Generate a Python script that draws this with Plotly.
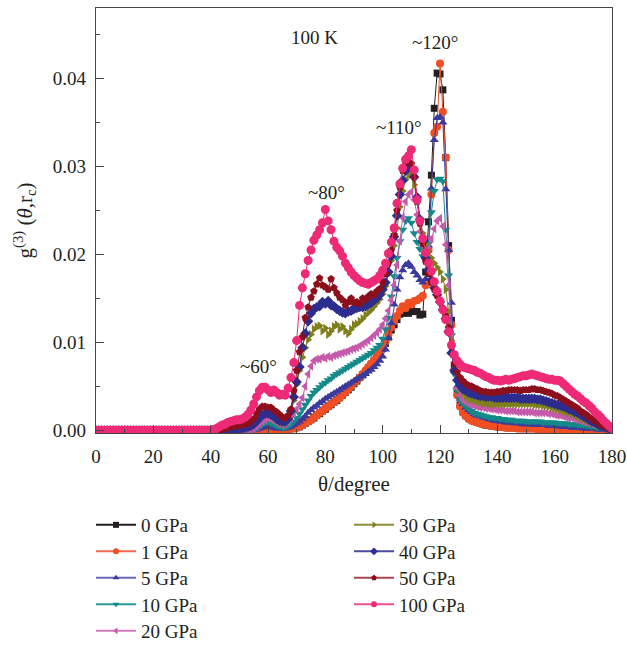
import plotly.graph_objects as go

theta = list(range(0, 181))

g_0GPa = [
    0, 0, 0, 0, 0, 0, 0, 0, 0, 0,
    0, 0, 0, 0, 0, 0, 0, 0, 0, 0,
    0, 0, 0, 0, 0, 0, 0, 0, 0, 0,
    0, 0, 0, 0, 0, 0, 0, 0, 0, 0,
    0, 0, 0, 0, 0, 0, 0, 0, 0, 0,
    0, 0, 0, 0, 0, 0, 0, 0, 0, 0,
    0, 0, 0, 0, 0, 0.0001, 0.0001, 0.0001, 0.0002, 0.0002,
    0.0003, 0.0004, 0.0006, 0.0008, 0.001, 0.0012, 0.0014, 0.0017, 0.0019, 0.0022,
    0.0024, 0.0027, 0.0029, 0.0032, 0.0034, 0.0037, 0.004, 0.0043, 0.0046, 0.0049,
    0.0053, 0.0056, 0.006, 0.0063, 0.0067, 0.0071, 0.0075, 0.0079, 0.0084, 0.0088,
    0.0093, 0.0099, 0.0106, 0.0114, 0.012, 0.0126, 0.0132, 0.0133, 0.0134, 0.0133,
    0.0137, 0.0135, 0.0135, 0.0131, 0.0132, 0.018, 0.0237, 0.029, 0.0366, 0.0406,
    0.0405, 0.0387, 0.031, 0.021, 0.0125, 0.0072, 0.0043, 0.0029, 0.0021, 0.0017,
    0.0014, 0.0012, 0.001, 0.0009, 0.0008, 0.0007, 0.0006, 0.0006, 0.0005, 0.0005,
    0.0004, 0.0004, 0.0004, 0.0003, 0.0003, 0.0003, 0.0003, 0.0003, 0.0002, 0.0002,
    0.0002, 0.0002, 0.0002, 0.0002, 0.0002, 0.0002, 0.0001, 0.0001, 0.0001, 0.0001,
    0.0001, 0.0001, 0.0001, 0.0001, 0.0001, 0.0001, 0.0001, 0.0001, 0.0001, 0.0001,
    0.0001, 0.0001, 0.0001, 0.0001, 0.0001, 0, 0, 0, 0, 0,
    0,
]

g_1GPa = [
    0, 0, 0, 0, 0, 0, 0, 0, 0, 0,
    0, 0, 0, 0, 0, 0, 0, 0, 0, 0,
    0, 0, 0, 0, 0, 0, 0, 0, 0, 0,
    0, 0, 0, 0, 0, 0, 0, 0, 0, 0,
    0, 0, 0, 0, 0, 0, 0, 0, 0, 0,
    0, 0, 0, 0, 0, 0, 0, 0, 0, 0,
    0, 0, 0, 0, 0, 0.0001, 0.0001, 0.0001, 0.0002, 0.0002,
    0.0003, 0.0004, 0.0006, 0.0008, 0.001, 0.0012, 0.0015, 0.0017, 0.002, 0.0022,
    0.0025, 0.0027, 0.003, 0.0032, 0.0035, 0.0037, 0.004, 0.0043, 0.0047, 0.005,
    0.0054, 0.0057, 0.006, 0.0064, 0.0068, 0.0072, 0.0076, 0.008, 0.0085, 0.009,
    0.0095, 0.0101, 0.0109, 0.0117, 0.0124, 0.013, 0.0136, 0.0141, 0.0139, 0.0145,
    0.0143, 0.0147, 0.0148, 0.015, 0.0153, 0.0165, 0.0205, 0.0268, 0.0338, 0.0345,
    0.0417, 0.0362, 0.031, 0.0205, 0.012, 0.0068, 0.004, 0.0027, 0.002, 0.0016,
    0.0013, 0.0011, 0.001, 0.0009, 0.0008, 0.0007, 0.0006, 0.0006, 0.0005, 0.0005,
    0.0004, 0.0004, 0.0004, 0.0003, 0.0003, 0.0003, 0.0003, 0.0002, 0.0002, 0.0002,
    0.0002, 0.0002, 0.0002, 0.0002, 0.0001, 0.0001, 0.0001, 0.0001, 0.0001, 0.0001,
    0.0001, 0.0001, 0.0001, 0.0001, 0.0001, 0, 0, 0, 0, 0,
    0, 0, 0, 0, 0, 0, 0, 0, 0, 0,
    0,
]

g_5GPa = [
    0, 0, 0, 0, 0, 0, 0, 0, 0, 0,
    0, 0, 0, 0, 0, 0, 0, 0, 0, 0,
    0, 0, 0, 0, 0, 0, 0, 0, 0, 0,
    0, 0, 0, 0, 0, 0, 0, 0, 0, 0,
    0, 0, 0, 0, 0, 0, 0, 0, 0, 0,
    0, 0, 0, 0, 0, 0, 0.0001, 0.0002, 0.0003, 0.0004,
    0.0004, 0.0004, 0.0003, 0.0002, 0.0002, 0.0002, 0.0002, 0.0003, 0.0004, 0.0006,
    0.0008, 0.001, 0.0013, 0.0016, 0.002, 0.0023, 0.0026, 0.0028, 0.0031, 0.0033,
    0.0036, 0.0038, 0.004, 0.0042, 0.0044, 0.0046, 0.0048, 0.005, 0.0052, 0.0054,
    0.0056, 0.0058, 0.006, 0.0062, 0.0064, 0.0067, 0.0069, 0.0072, 0.0075, 0.0079,
    0.0084, 0.0092, 0.0105, 0.0122, 0.0143, 0.016, 0.0174, 0.0182, 0.0188, 0.019,
    0.0186, 0.018, 0.0176, 0.0171, 0.0168, 0.0172, 0.021, 0.0275, 0.033, 0.0355,
    0.0356, 0.035, 0.0274, 0.0205, 0.0145, 0.0085, 0.005, 0.0036, 0.003, 0.0026,
    0.0023, 0.0021, 0.0019, 0.0017, 0.0016, 0.0015, 0.0014, 0.0013, 0.0012, 0.0011,
    0.0011, 0.001, 0.001, 0.0009, 0.0009, 0.0009, 0.0008, 0.0008, 0.0008, 0.0007,
    0.0007, 0.0007, 0.0007, 0.0006, 0.0006, 0.0006, 0.0006, 0.0006, 0.0005, 0.0005,
    0.0005, 0.0005, 0.0004, 0.0004, 0.0004, 0.0004, 0.0003, 0.0003, 0.0003, 0.0003,
    0.0002, 0.0002, 0.0002, 0.0002, 0.0002, 0.0001, 0.0001, 0.0001, 0.0001, 0.0001,
    0,
]

g_10GPa = [
    0, 0, 0, 0, 0, 0, 0, 0, 0, 0,
    0, 0, 0, 0, 0, 0, 0, 0, 0, 0,
    0, 0, 0, 0, 0, 0, 0, 0, 0, 0,
    0, 0, 0, 0, 0, 0, 0, 0, 0, 0,
    0, 0, 0, 0, 0, 0, 0, 0, 0, 0,
    0, 0, 0, 0, 0.0001, 0.0002, 0.0003, 0.0005, 0.0007, 0.0009,
    0.0009, 0.0008, 0.0007, 0.0005, 0.0004, 0.0003, 0.0003, 0.0005, 0.0007, 0.001,
    0.0014, 0.0019, 0.0024, 0.0029, 0.0034, 0.0039, 0.0043, 0.0046, 0.0049, 0.0052,
    0.0054, 0.0057, 0.0059, 0.0062, 0.0064, 0.0066, 0.0068, 0.007, 0.0072, 0.0074,
    0.0076, 0.0078, 0.008, 0.0082, 0.0084, 0.0086, 0.0088, 0.0091, 0.0094, 0.0097,
    0.0104, 0.0115, 0.0128, 0.0152, 0.0175, 0.0196, 0.0215, 0.0228, 0.0238, 0.0241,
    0.0236, 0.0224, 0.0214, 0.0206, 0.0198, 0.0198, 0.0212, 0.0248, 0.0272, 0.0285,
    0.0286, 0.0283, 0.0228, 0.0176, 0.0108, 0.0064, 0.0045, 0.0036, 0.0031, 0.0027,
    0.0024, 0.0022, 0.002, 0.0019, 0.0018, 0.0017, 0.0016, 0.0015, 0.0015, 0.0014,
    0.0014, 0.0013, 0.0013, 0.0012, 0.0012, 0.0012, 0.0011, 0.0011, 0.0011, 0.0011,
    0.001, 0.001, 0.001, 0.001, 0.001, 0.001, 0.0009, 0.0009, 0.0009, 0.0009,
    0.0009, 0.0008, 0.0008, 0.0008, 0.0008, 0.0007, 0.0007, 0.0007, 0.0006, 0.0006,
    0.0006, 0.0005, 0.0005, 0.0004, 0.0004, 0.0003, 0.0003, 0.0002, 0.0002, 0.0001,
    0.0001,
]

g_20GPa = [
    0, 0, 0, 0, 0, 0, 0, 0, 0, 0,
    0, 0, 0, 0, 0, 0, 0, 0, 0, 0,
    0, 0, 0, 0, 0, 0, 0, 0, 0, 0,
    0, 0, 0, 0, 0, 0, 0, 0, 0, 0,
    0, 0, 0, 0, 0, 0, 0, 0, 0, 0,
    0, 0, 0, 0.0001, 0.0001, 0.0002, 0.0004, 0.0007, 0.001, 0.0012,
    0.0014, 0.0013, 0.0011, 0.0009, 0.0007, 0.0006, 0.0007, 0.001, 0.0014, 0.0019,
    0.0024, 0.003, 0.0037, 0.005, 0.0064, 0.0073, 0.0079, 0.0081, 0.0081, 0.0083,
    0.0082, 0.0084, 0.0083, 0.0085, 0.0086, 0.0087, 0.0088, 0.0089, 0.009, 0.0092,
    0.0093, 0.0094, 0.0096, 0.0098, 0.01, 0.0102, 0.0105, 0.0108, 0.0111, 0.0115,
    0.012, 0.0127, 0.0136, 0.0148, 0.0165, 0.0188, 0.0215, 0.0242, 0.026, 0.0268,
    0.0271, 0.0262, 0.0245, 0.0226, 0.021, 0.0203, 0.0206, 0.0218, 0.0229, 0.0238,
    0.0241, 0.0232, 0.0211, 0.0165, 0.0108, 0.0068, 0.0048, 0.004, 0.0035, 0.0032,
    0.003, 0.0029, 0.0028, 0.0027, 0.0026, 0.0026, 0.0025, 0.0025, 0.0024, 0.0024,
    0.0023, 0.0023, 0.0023, 0.0022, 0.0022, 0.0022, 0.0022, 0.0021, 0.0021, 0.0021,
    0.0021, 0.0021, 0.0021, 0.002, 0.002, 0.002, 0.002, 0.002, 0.0019, 0.0019,
    0.0018, 0.0017, 0.0017, 0.0016, 0.0015, 0.0014, 0.0014, 0.0013, 0.0012, 0.0011,
    0.001, 0.0009, 0.0008, 0.0007, 0.0006, 0.0005, 0.0004, 0.0003, 0.0002, 0.0001,
    0.0001,
]

g_30GPa = [
    0, 0, 0, 0, 0, 0, 0, 0, 0, 0,
    0, 0, 0, 0, 0, 0, 0, 0, 0, 0,
    0, 0, 0, 0, 0, 0, 0, 0, 0, 0,
    0, 0, 0, 0, 0, 0, 0, 0, 0, 0,
    0, 0, 0, 0, 0, 0, 0, 0, 0, 0,
    0.0001, 0.0001, 0.0002, 0.0003, 0.0004, 0.0006, 0.0009, 0.0012, 0.0016, 0.0019,
    0.002, 0.0018, 0.0015, 0.0012, 0.001, 0.0008, 0.0009, 0.0013, 0.002, 0.0034,
    0.0052, 0.0068, 0.0083, 0.0094, 0.0103, 0.0109, 0.0115, 0.0118, 0.0119, 0.0113,
    0.0116, 0.0109, 0.0113, 0.0118, 0.012, 0.0115, 0.0118, 0.0113, 0.011, 0.0115,
    0.012, 0.0121, 0.0124, 0.0127, 0.0131, 0.0134, 0.0137, 0.0141, 0.0145, 0.0149,
    0.0155, 0.0164, 0.0178, 0.0193, 0.021, 0.023, 0.0254, 0.0272, 0.0285, 0.029,
    0.0291, 0.0279, 0.026, 0.0241, 0.0224, 0.0212, 0.0203, 0.0196, 0.019, 0.0185,
    0.018, 0.0172, 0.016, 0.0135, 0.0102, 0.0073, 0.0055, 0.0047, 0.0042, 0.0038,
    0.0036, 0.0035, 0.0034, 0.0033, 0.0032, 0.0031, 0.0031, 0.003, 0.003, 0.003,
    0.003, 0.003, 0.003, 0.003, 0.003, 0.003, 0.003, 0.003, 0.003, 0.003,
    0.003, 0.003, 0.003, 0.0029, 0.0029, 0.0029, 0.0028, 0.0028, 0.0027, 0.0026,
    0.0025, 0.0024, 0.0023, 0.0022, 0.0021, 0.002, 0.0019, 0.0017, 0.0016, 0.0014,
    0.0013, 0.0011, 0.001, 0.0009, 0.0007, 0.0006, 0.0005, 0.0004, 0.0003, 0.0002,
    0.0001,
]

g_40GPa = [
    0, 0, 0, 0, 0, 0, 0, 0, 0, 0,
    0, 0, 0, 0, 0, 0, 0, 0, 0, 0,
    0, 0, 0, 0, 0, 0, 0, 0, 0, 0,
    0, 0, 0, 0, 0, 0, 0, 0, 0, 0,
    0, 0, 0, 0, 0, 0, 0, 0, 0.0001, 0.0001,
    0.0002, 0.0002, 0.0003, 0.0004, 0.0005, 0.0007, 0.001, 0.0014, 0.0017, 0.0019,
    0.0019, 0.0018, 0.0016, 0.0013, 0.0011, 0.001, 0.001, 0.0013, 0.0022, 0.0038,
    0.0055, 0.0072, 0.0094, 0.011, 0.0124, 0.0133, 0.0138, 0.014, 0.0141, 0.0146,
    0.0144, 0.0147, 0.0142, 0.0141, 0.0138, 0.0136, 0.0134, 0.0133, 0.0135, 0.0136,
    0.0138, 0.0139, 0.014, 0.014, 0.0141, 0.0143, 0.0145, 0.0148, 0.015, 0.0154,
    0.016, 0.0168, 0.018, 0.0198, 0.022, 0.0244, 0.0268, 0.0284, 0.0295, 0.03,
    0.0298, 0.0288, 0.0265, 0.024, 0.0215, 0.0196, 0.0182, 0.0171, 0.0162, 0.0154,
    0.0146, 0.0137, 0.0127, 0.0112, 0.0088, 0.0068, 0.0057, 0.0051, 0.0047, 0.0045,
    0.0043, 0.0042, 0.0041, 0.004, 0.0039, 0.0039, 0.0038, 0.0038, 0.0038, 0.0037,
    0.0037, 0.0037, 0.0037, 0.0037, 0.0037, 0.0037, 0.0037, 0.0037, 0.0036, 0.0036,
    0.0036, 0.0036, 0.0036, 0.0036, 0.0035, 0.0035, 0.0034, 0.0033, 0.0032, 0.0031,
    0.003, 0.0029, 0.0028, 0.0027, 0.0026, 0.0024, 0.0023, 0.0021, 0.002, 0.0018,
    0.0016, 0.0014, 0.0012, 0.001, 0.0009, 0.0007, 0.0005, 0.0004, 0.0003, 0.0002,
    0.0001,
]

g_50GPa = [
    0, 0, 0, 0, 0, 0, 0, 0, 0, 0,
    0, 0, 0, 0, 0, 0, 0, 0, 0, 0,
    0, 0, 0, 0, 0, 0, 0, 0, 0, 0,
    0, 0, 0, 0, 0, 0, 0, 0, 0, 0,
    0, 0, 0, 0, 0.0001, 0.0002, 0.0003, 0.0004, 0.0005, 0.0005,
    0.0006, 0.0006, 0.0007, 0.0008, 0.001, 0.0013, 0.0019, 0.0024, 0.0027, 0.0027,
    0.0026, 0.0026, 0.0023, 0.0021, 0.0018, 0.0015, 0.0014, 0.0017, 0.0024, 0.0045,
    0.0068, 0.0089, 0.0106, 0.0128, 0.014, 0.0151, 0.0158, 0.0166, 0.0173, 0.0165,
    0.0163, 0.016, 0.0172, 0.0162, 0.0156, 0.0151, 0.0148, 0.0142, 0.0146, 0.015,
    0.0145, 0.0146, 0.0144, 0.015, 0.0148, 0.0152, 0.0155, 0.0154, 0.0158, 0.0161,
    0.0168, 0.0178, 0.019, 0.0205, 0.0222, 0.025, 0.0276, 0.0295, 0.0304, 0.031,
    0.0303, 0.0288, 0.026, 0.0235, 0.0212, 0.0192, 0.0178, 0.0168, 0.016, 0.0153,
    0.0146, 0.0139, 0.013, 0.0117, 0.0095, 0.0076, 0.0066, 0.006, 0.0056, 0.0053,
    0.0051, 0.005, 0.0048, 0.0047, 0.0045, 0.0044, 0.0044, 0.0043, 0.0043, 0.0043,
    0.0044, 0.0044, 0.0045, 0.0045, 0.0046, 0.0046, 0.0046, 0.0046, 0.0045, 0.0046,
    0.0046, 0.0046, 0.0047, 0.0047, 0.0046, 0.0046, 0.0045, 0.0044, 0.0043, 0.0042,
    0.004, 0.0039, 0.0037, 0.0035, 0.0033, 0.0031, 0.0029, 0.0027, 0.0025, 0.0022,
    0.002, 0.0018, 0.0015, 0.0013, 0.0011, 0.0009, 0.0007, 0.0005, 0.0004, 0.0002,
    0.0001,
]

g_100GPa = [
    0, 0, 0, 0, 0, 0, 0, 0, 0, 0,
    0, 0, 0, 0, 0, 0, 0, 0, 0, 0,
    0, 0, 0, 0, 0, 0, 0, 0, 0, 0,
    0, 0, 0, 0, 0, 0, 0, 0, 0, 0,
    0, 0.0001, 0.0002, 0.0004, 0.0006, 0.0007, 0.0009, 0.001, 0.0011, 0.0012,
    0.0012, 0.0013, 0.0015, 0.0018, 0.0023, 0.003, 0.0038, 0.0045, 0.0049, 0.0049,
    0.0046, 0.0043, 0.0046, 0.0043, 0.004, 0.0041, 0.004, 0.0048, 0.006, 0.0077,
    0.0102, 0.0142, 0.0162, 0.0178, 0.0193, 0.0205, 0.0216, 0.0222, 0.0228, 0.0236,
    0.0251, 0.0238, 0.0228, 0.0215, 0.0208, 0.0204, 0.0198, 0.019, 0.0185, 0.018,
    0.0176, 0.0173, 0.017, 0.0168, 0.0167, 0.0166, 0.0168, 0.017, 0.0172, 0.0176,
    0.0182, 0.019, 0.0201, 0.0214, 0.023, 0.0258, 0.028, 0.0298, 0.0308, 0.0312,
    0.0319, 0.0296, 0.0262, 0.0238, 0.0218, 0.0202, 0.019, 0.0181, 0.0169, 0.0158,
    0.0147, 0.0137, 0.0126, 0.0112, 0.0097, 0.0086, 0.0079, 0.0075, 0.0072, 0.0071,
    0.007, 0.0069, 0.0068, 0.0066, 0.0065, 0.0063, 0.0061, 0.006, 0.0058, 0.0057,
    0.0057, 0.0056, 0.0057, 0.0058, 0.0057, 0.0058, 0.0059, 0.006, 0.0061, 0.0062,
    0.0062, 0.0063, 0.0064, 0.0063, 0.0062, 0.0061, 0.006, 0.0059, 0.0058, 0.0058,
    0.0057, 0.0057, 0.0056, 0.0053, 0.005, 0.0047, 0.0044, 0.0041, 0.0039, 0.0036,
    0.0033, 0.0031, 0.0028, 0.0025, 0.0021, 0.0018, 0.0015, 0.0011, 0.0008, 0.0005,
    0.0002,
]

series_names = ["0 GPa", "1 GPa", "5 GPa", "10 GPa", "20 GPa",
                "30 GPa", "40 GPa", "50 GPa", "100 GPa"]
series_values = [g_0GPa, g_1GPa, g_5GPa, g_10GPa, g_20GPa,
                 g_30GPa, g_40GPa, g_50GPa, g_100GPa]
colors = ["#231f20", "#f04e23", "#3b3a9c", "#14898a", "#c55aab",
          "#7f7f1c", "#2c2d8e", "#8c0f1c", "#ee2a76"]
legend_line_colors = ["#231f20", "#f36b4e", "#6867b8", "#2a9a9a", "#d07cbd",
                      "#8f8f3a", "#4a4aa0", "#a8464f", "#f0508c"]
symbols = ["square", "circle", "triangle-up", "triangle-down", "triangle-left",
           "triangle-right", "diamond", "pentagon", "circle"]
marker_sizes = [7, 8, 8, 8, 8, 8, 8, 8, 9]

FONT = "Liberation Serif, Times New Roman, serif"
TXT = "#231f20"

W, H = 627, 646
ML, MR, MT, MB = 96, 15, 8, 213
PW, PH = W - ML - MR, H - MT - MB

fig = go.Figure()
for i, (name, vals, col, sym, ms) in enumerate(zip(series_names, series_values, colors, symbols, marker_sizes)):
    fig.add_trace(go.Scatter(
        x=theta, y=vals, name=name, mode="lines+markers",
        line=dict(color=col, width=1),
        marker=dict(symbol=sym, size=ms, color=col),
        showlegend=False,
    ))

# legend-only entries (smaller symbols), one legend box per entry: two columns
legend_layout = {}
row_centers = [525, 551.5, 578, 604.5, 631]
col_starts = [91, 349]
for i, (name, col, lcol, sym) in enumerate(zip(series_names, colors, legend_line_colors, symbols)):
    col_idx = 0 if i < 5 else 1
    row_idx = i if i < 5 else i - 5
    key = "legend" if i == 0 else "legend%d" % (i + 1)
    fig.add_trace(go.Scatter(
        x=[None], y=[None], name=name, mode="lines+markers",
        line=dict(color=lcol, width=2),
        marker=dict(symbol=sym, size=6, color=col),
        showlegend=True, legend=key,
    ))
    legend_layout[key] = dict(
        x=(col_starts[col_idx] - ML) / PW,
        y=(H - MB - row_centers[row_idx]) / PH,
        xanchor="left", yanchor="middle",
        font=dict(family=FONT, size=19, color=TXT),
        bgcolor="rgba(0,0,0,0)", itemwidth=40,
    )

fig.update_xaxes(
    range=[0, 180], tickmode="array", tickvals=list(range(0, 181, 20)),
    ticks="inside", ticklen=8, tickwidth=1.2, tickcolor="#444",
    minor=dict(ticks="inside", ticklen=4, dtick=10, tickcolor="#444", tickwidth=1.2),
    showline=True, linecolor="#444", linewidth=1.3, mirror=True,
    showgrid=False, zeroline=False, ticklabelstandoff=6,
    tickfont=dict(family=FONT, size=19, color=TXT),
    title=dict(text="θ/degree", font=dict(family=FONT, size=21, color=TXT), standoff=10),
)
fig.update_yaxes(
    range=[-0.0003, 0.048], tickmode="array", tickvals=[0, 0.01, 0.02, 0.03, 0.04],
    ticktext=["0.00", "0.01", "0.02", "0.03", "0.04"],
    ticks="inside", ticklen=8, tickwidth=1.2, tickcolor="#444",
    minor=dict(ticks="inside", ticklen=4, dtick=0.005, tick0=0, tickcolor="#444", tickwidth=1.2),
    showline=True, linecolor="#444", linewidth=1.3, mirror=True,
    showgrid=False, zeroline=False, ticklabelstandoff=5,
    tickfont=dict(family=FONT, size=19, color=TXT),
    title=dict(text="g<sup>(3)</sup> (<i>θ</i>,r<sub>c</sub>)", font=dict(family=FONT, size=21, color=TXT), standoff=14),
)

fig.update_layout(
    width=W, height=H,
    margin=dict(l=ML, r=MR, t=MT, b=MB, autoexpand=False),
    paper_bgcolor="white", plot_bgcolor="white",
    font=dict(family=FONT, size=19, color=TXT),
    showlegend=True,
    **legend_layout,
)

annos = [
    ("100 K", 76.2, 0.0446),
    ("~120°", 118.4, 0.0441),
    ("~110°", 105.6, 0.0344),
    ("~80°", 80.4, 0.0270),
    ("~60°", 56.7, 0.0073),
]
for text, ax_x, ax_y in annos:
    fig.add_annotation(x=ax_x, y=ax_y, text=text, showarrow=False,
                       font=dict(family=FONT, size=19, color=TXT))

fig.write_html("out.html")
